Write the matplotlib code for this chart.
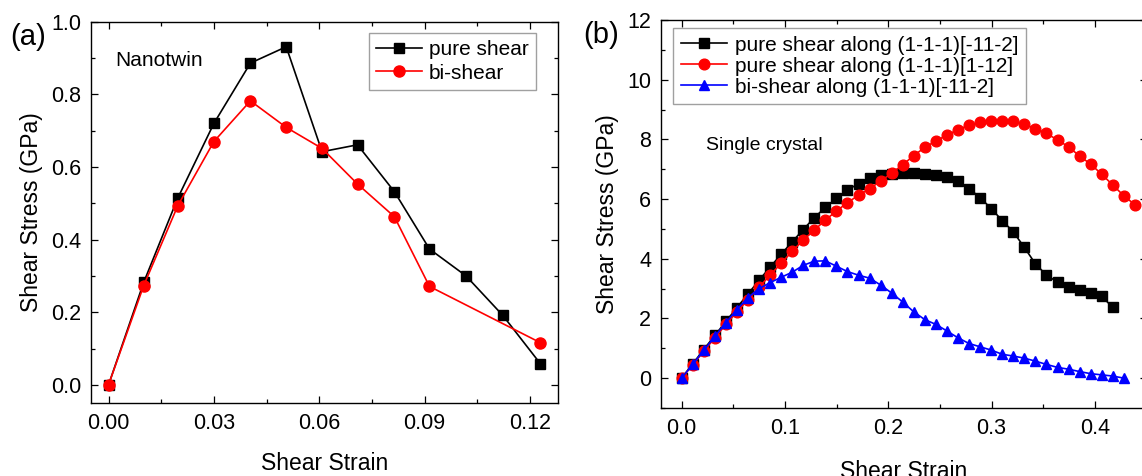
import matplotlib
matplotlib.use("Agg")
import matplotlib.pyplot as plt
from matplotlib.ticker import MultipleLocator, FormatStrFormatter

plt.rcParams['font.family'] = ['Liberation Sans', 'DejaVu Sans']

# ---------------- Panel (a) data: Nanotwin ----------------
nt_strain_pure = [0.0, 0.01, 0.0197, 0.030, 0.0404, 0.0506, 0.0608, 0.0709, 0.0814, 0.0914, 0.1018, 0.1123, 0.1230]
nt_stress_pure = [0.0, 0.282, 0.514, 0.720, 0.886, 0.931, 0.642, 0.661, 0.532, 0.374, 0.300, 0.191, 0.058]
nt_strain_bi = [0.0, 0.01, 0.0197, 0.030, 0.0404, 0.0506, 0.0608, 0.0709, 0.0814, 0.0914, 0.1230]
nt_stress_bi = [0.0, 0.273, 0.493, 0.670, 0.782, 0.709, 0.651, 0.553, 0.463, 0.271, 0.116]

# ---------------- Panel (b) data: Single crystal ----------------
sc_strain = [0.0, 0.0107, 0.0214, 0.0321, 0.0428, 0.0535, 0.0642, 0.0749, 0.0856, 0.0963,
             0.107, 0.1177, 0.1284, 0.1391, 0.1498, 0.1605, 0.1712, 0.1819, 0.1926, 0.2033,
             0.214, 0.2247, 0.2354, 0.2461, 0.2568, 0.2675, 0.2782, 0.2889, 0.2996, 0.3103,
             0.321, 0.3317, 0.3424, 0.3531, 0.3638, 0.3745, 0.3852, 0.3959, 0.4066, 0.4173,
             0.428, 0.4387]
sc_pure_112 = [0.0, 0.48, 0.96, 1.43, 1.90, 2.36, 2.82, 3.28, 3.72, 4.15,
               4.57, 4.98, 5.38, 5.72, 6.02, 6.30, 6.52, 6.70, 6.80, 6.84,
               6.87, 6.87, 6.85, 6.82, 6.75, 6.60, 6.35, 6.05, 5.68, 5.28,
               4.90, 4.38, 3.83, 3.45, 3.22, 3.06, 2.95, 2.85, 2.74, 2.37]
sc_pure_1m12 = [0.0, 0.45, 0.90, 1.35, 1.80, 2.22, 2.63, 3.05, 3.45, 3.85,
                4.25, 4.63, 4.96, 5.30, 5.60, 5.88, 6.13, 6.35, 6.60, 6.87,
                7.15, 7.46, 7.73, 7.95, 8.14, 8.33, 8.47, 8.57, 8.62, 8.63,
                8.60, 8.50, 8.36, 8.20, 7.98, 7.75, 7.44, 7.17, 6.83, 6.47,
                6.11, 5.81]
sc_bi_112 = [0.0, 0.46, 0.93, 1.40, 1.86, 2.30, 2.70, 3.00, 3.20, 3.38,
             3.55, 3.78, 3.92, 3.93, 3.75, 3.57, 3.45, 3.35, 3.12, 2.85,
             2.55, 2.22, 1.96, 1.80, 1.58, 1.35, 1.16, 1.05, 0.94, 0.80,
             0.74, 0.67, 0.57, 0.46, 0.36, 0.30, 0.22, 0.15, 0.11, 0.07,
             0.0]

labels_a = ["pure shear", "bi-shear"]
labels_b = ["pure shear along (1-1-1)[-11-2]",
            "pure shear along (1-1-1)[1-12]",
            "bi-shear along (1-1-1)[-11-2]"]

W, H = 1142, 476
fig = plt.figure(figsize=(W / 100, H / 100), dpi=100)

def px_axes(l, r, t, b):
    return fig.add_axes([l / W, (H - b) / H, (r - l) / W, (b - t) / H])

ax1 = px_axes(91, 558, 21.7, 403)
ax2 = px_axes(661, 1146.6, 20, 408)

TICK_FS = 15.5
LABEL_FS = 16.5

def style(ax):
    for s in ax.spines.values():
        s.set_linewidth(1.0)
    ax.tick_params(which='both', direction='in', top=True, right=True,
                   labelsize=TICK_FS, width=0.9, pad=7)
    ax.tick_params(which='major', length=5)
    ax.tick_params(which='minor', length=3)

# ---- Panel (a)
ax1.plot(nt_strain_pure, nt_stress_pure, color='black', marker='s', ms=7,
         lw=1.2, label=labels_a[0], zorder=3)
ax1.plot(nt_strain_bi, nt_stress_bi, color='#ff0000', marker='o', ms=8,
         lw=1.2, label=labels_a[1], zorder=4)
ax1.set_xlim(-0.005, 0.128)
ax1.set_ylim(-0.05, 1.0)
ax1.xaxis.set_major_locator(MultipleLocator(0.03))
ax1.xaxis.set_minor_locator(MultipleLocator(0.015))
ax1.yaxis.set_major_locator(MultipleLocator(0.2))
ax1.yaxis.set_minor_locator(MultipleLocator(0.1))
ax1.xaxis.set_major_formatter(FormatStrFormatter('%.2f'))
ax1.yaxis.set_major_formatter(FormatStrFormatter('%.1f'))
style(ax1)
ax1.set_xlabel("Shear Strain", fontsize=LABEL_FS, labelpad=13)
ax1.set_ylabel("Shear Stress (GPa)", fontsize=LABEL_FS, labelpad=6)
fig.text(115 / W, (H - 60.7) / H, "Nanotwin", fontsize=15, va='center', ha='left')
leg1 = ax1.legend(loc='upper right', bbox_to_anchor=(0.953, 0.970),
                  fontsize=15, frameon=True, fancybox=False, edgecolor='#888888',
                  handlelength=2.2, handletextpad=0.35, labelspacing=0.2,
                  borderpad=0.35, borderaxespad=0)
leg1.get_frame().set_linewidth(1.0)
fig.text(10 / W, (H - 37) / H, "(a)", fontsize=21, va='center', ha='left')

# ---- Panel (b)
ax2.plot(sc_strain[:len(sc_pure_112)], sc_pure_112, color='black', marker='s', ms=6.8,
         lw=1.2, label=labels_b[0], zorder=3)
ax2.plot(sc_strain[:len(sc_pure_1m12)], sc_pure_1m12, color='#ff0000', marker='o', ms=7.7,
         lw=1.2, label=labels_b[1], zorder=4)
ax2.plot(sc_strain[:len(sc_bi_112)], sc_bi_112, color='#0000ff', marker='^', ms=7.5,
         lw=1.2, label=labels_b[2], zorder=5)
ax2.set_xlim(-0.02, 0.45)
ax2.set_ylim(-1, 12)
ax2.xaxis.set_major_locator(MultipleLocator(0.1))
ax2.xaxis.set_minor_locator(MultipleLocator(0.05))
ax2.yaxis.set_major_locator(MultipleLocator(2))
ax2.yaxis.set_minor_locator(MultipleLocator(1))
ax2.xaxis.set_major_formatter(FormatStrFormatter('%.1f'))
ax2.yaxis.set_major_formatter(FormatStrFormatter('%d'))
style(ax2)
ax2.set_xlabel("Shear Strain", fontsize=LABEL_FS, labelpad=15)
ax2.set_ylabel("Shear Stress (GPa)", fontsize=LABEL_FS, labelpad=6)
fig.text(706 / W, (H - 145.7) / H, "Single crystal", fontsize=14, va='center', ha='left')
leg2 = ax2.legend(loc='upper left', bbox_to_anchor=(0.0253, 0.9786),
                  fontsize=15, frameon=True, fancybox=False, edgecolor='#888888',
                  handlelength=2.25, handletextpad=0.35, labelspacing=0.1,
                  borderpad=0.35, borderaxespad=0)
leg2.get_frame().set_linewidth(1.0)
fig.text(583 / W, (H - 35) / H, "(b)", fontsize=21, va='center', ha='left')

fig.savefig("out.png", dpi=100)
